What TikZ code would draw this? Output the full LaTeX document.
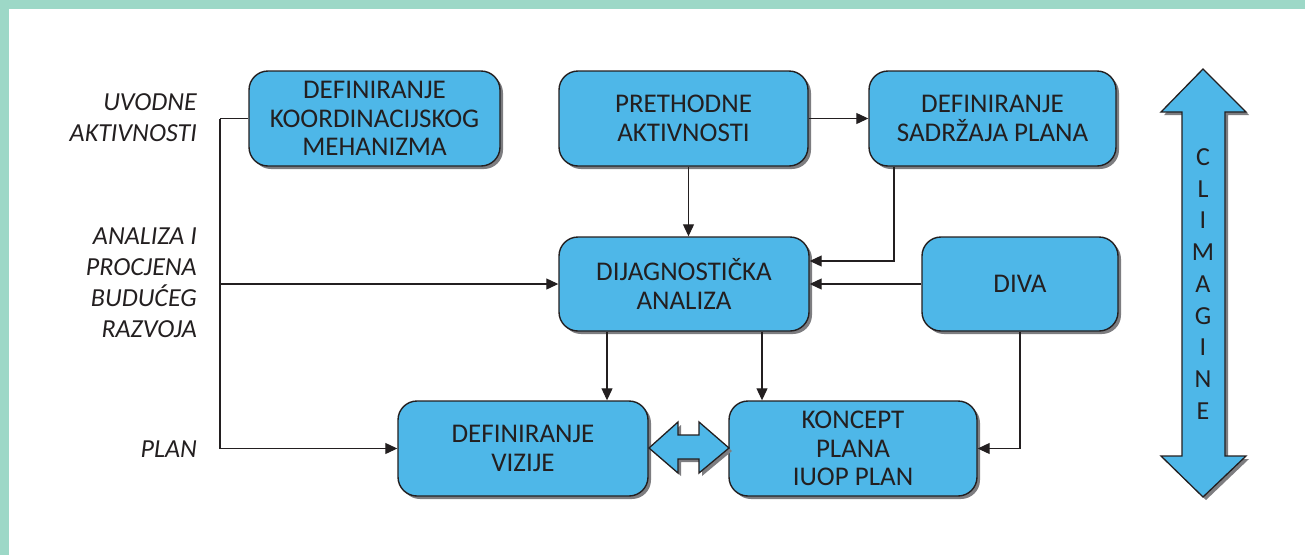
\documentclass[tikz,border=0pt]{standalone}
\usepackage{fontspec}
\setmainfont{Carlito}
\usetikzlibrary{arrows.meta,shadows,calc}
\definecolor{frame}{RGB}{157,216,199}
\definecolor{boxblue}{RGB}{78,183,232}
\definecolor{ink}{RGB}{35,31,32}
\definecolor{shade}{RGB}{125,125,128}
\tikzset{
  box/.style={draw=ink, line width=1.4pt, fill=boxblue, rounded corners=19pt,
    align=center, text=ink, inner sep=0pt,
    font=\fontsize{27}{28.5}\selectfont,
    drop shadow={shadow xshift=3pt, shadow yshift=-3pt, fill=shade, opacity=1}},
  conn/.style={draw=ink, line width=1.1pt},
  arr/.style={conn, -{Triangle[length=12pt,width=11pt]}},
  side/.style={anchor=east, align=right, text=ink, inner sep=0pt,
    font=\fontsize{26}{31}\selectfont\itshape},
  bigarrow/.style={draw=ink, line width=1.3pt, fill=boxblue, line join=miter},
  bigshadow/.style={fill=shade}
}
\begin{document}
\begin{tikzpicture}[x=1pt,y=-1pt]
\useasboundingbox (0,0) rectangle (1305,555);
\fill[frame] (0,0) rectangle (1305,9);
\fill[frame] (0,0) rectangle (9,555);

% side labels
\node[side] (l1) at (197,118) {UVODNE\\AKTIVNOSTI};
\node[side] (l2) at (197,283) {ANALIZA I\\PROCJENA\\BUDUĆEG\\RAZVOJA};
\node[side] (l3) at (197,449) {PLAN};

% boxes
\node[box, minimum width=251pt, minimum height=95pt] (koord) at (374.5,118.5) {DEFINIRANJE\\KOORDINACIJSKOG\\MEHANIZMA};
\node[box, minimum width=249pt, minimum height=95pt] (preth) at (683.5,118.5) {PRETHODNE\\AKTIVNOSTI};
\node[box, minimum width=247pt, minimum height=95pt] (sadr) at (992.5,118.5) {DEFINIRANJE\\SADRŽAJA PLANA};
\node[box, minimum width=250pt, minimum height=94pt] (dijag) at (684,284) {DIJAGNOSTIČKA\\ANALIZA};
\node[box, minimum width=196pt, minimum height=94pt] (diva) at (1020,284) {DIVA};
\node[box, minimum width=250pt, minimum height=95pt] (vizije) at (523,448.5) {DEFINIRANJE\\VIZIJE};
\node[box, minimum width=248pt, minimum height=95pt] (koncept) at (853,448.5) {KONCEPT\\PLANA\\IUOP PLAN};

% left bus
\coordinate (busT) at (220,118.5);
\draw[conn] (koord.west) -- (busT);
\draw[arr] (busT) -- (busT |- vizije.west) -- (vizije.west);
\draw[arr] (busT |- dijag.west) -- (dijag.west);

% top row
\draw[arr] (preth.east) -- (sadr.west);
\draw[arr] ([xshift=5pt]preth.south) -- ([xshift=5pt]preth.south |- dijag.north);
\coordinate (s1) at ([xshift=-98.5pt]sadr.south);
\draw[arr] (s1) |- ([yshift=23pt]dijag.east);
\draw[arr] (diva.west) -- (dijag.east);

% down to bottom row
\coordinate (d1) at ([xshift=-77pt]dijag.south);
\coordinate (d2) at ([xshift=78pt]dijag.south);
\draw[arr] (d1) -- (d1 |- vizije.north);
\draw[arr] (d2) -- (d2 |- koncept.north);
\draw[arr] (diva.south) |- (koncept.east);

% double arrow between vizije and koncept
\fill[bigshadow] (652,451) -- (681,425) -- (681,438) -- (702,438) -- (702,425) -- (732,451) -- (702,476) -- (702,462) -- (681,462) -- (681,476) -- cycle;
\draw[bigarrow] (649,448) -- (678,422) -- (678,435) -- (699,435) -- (699,422) -- (729,448) -- (699,473) -- (699,459) -- (678,459) -- (678,473) -- cycle;

% CLIMAGINE arrow
\fill[bigshadow] (1206,72) -- (1249,115) -- (1228,115) -- (1228,459) -- (1249,459) -- (1206,500) -- (1164,459) -- (1185,459) -- (1185,115) -- (1164,115) -- cycle;
\draw[bigarrow] (1203,69) -- (1246,112) -- (1225,112) -- (1225,456) -- (1246,456) -- (1203,497) -- (1161,456) -- (1182,456) -- (1182,112) -- (1161,112) -- cycle;
\node[align=center, text=ink, inner sep=0pt, font=\fontsize{26}{31.75}\selectfont] (clim) at (1203,284) {C\\L\\I\\M\\A\\G\\I\\N\\E};
\end{tikzpicture}
\end{document}
